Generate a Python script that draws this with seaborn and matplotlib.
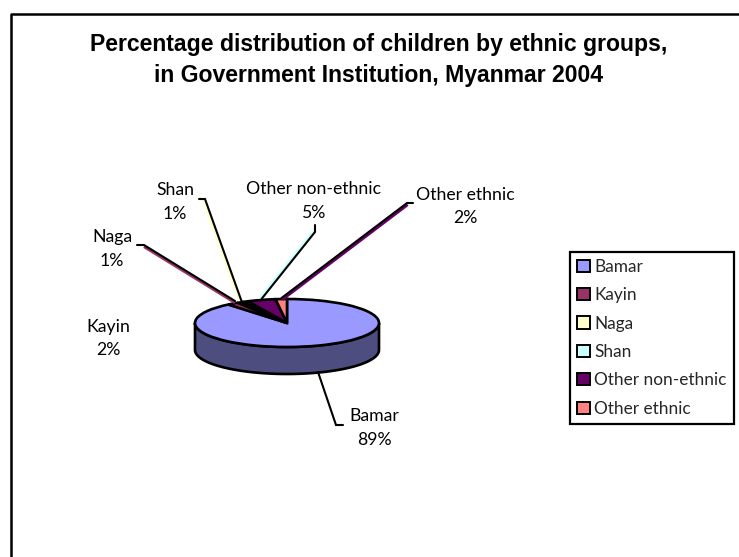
import matplotlib
matplotlib.use("Agg")
import matplotlib.pyplot as plt
import seaborn as sns
import numpy as np
from matplotlib.patches import Patch, Polygon

categories = ["Bamar", "Kayin", "Naga", "Shan", "Other non-ethnic", "Other ethnic"]
values = [89, 2, 1, 1, 5, 2]
colors = ["#9999FF", "#993366", "#FFFFCC", "#CCFFFF", "#660066", "#FF8080"]
side_color = "#4D4D80"
title_text = "Percentage distribution of children by ethnic groups,\nin Government Institution, Myanmar 2004"

sns.set_theme(style="white")
plt.rcParams["font.family"] = ["Lato", "DejaVu Sans"]
W, H = 739, 557
fig = plt.figure(figsize=(W / 100, H / 100), dpi=100, facecolor="white")

# overlay in pixel coordinates for frame, leaders, labels
px = fig.add_axes([0, 0, 1, 1], zorder=3)
px.set_xlim(0, W); px.set_ylim(H, 0); px.axis("off"); px.patch.set_alpha(0)

# pie axes: unit circle maps to squashed ellipse
cx, cy, rx, ry, depth = 287, 323, 92, 24, 27
ax = fig.add_axes([(cx - rx) / W, 1 - (cy + ry) / H, 2 * rx / W, 2 * ry / H], zorder=2)
ax.pie(values, colors=colors, startangle=90, counterclock=False, radius=1,
       wedgeprops=dict(edgecolor="black", linewidth=1.9))
ax.set_aspect("auto")
ax.set_xlim(-1, 1); ax.set_ylim(-1, 1)
ax.set_frame_on(False)
ax.patch.set_alpha(0)
for a in ax.patches:
    a.set_clip_on(False)
d = depth / ry
t = np.linspace(np.pi, 2 * np.pi, 100)
xs = np.r_[np.cos(t), np.cos(t)[::-1]]
ys = np.r_[np.sin(t) - d, np.sin(t)[::-1]]
ax.add_patch(Polygon(np.c_[xs, ys], closed=True, facecolor=side_color, edgecolor="black",
                     linewidth=1.9, zorder=0, clip_on=False))

# frame clipped by the image on the right and bottom
px.plot([10.5, 10.5, W + 5], [H + 5, 13.5, 13.5], color="black", lw=1.8, clip_on=False)

# leaders: (path, fringe colour)
leaders = [
    ([(318, 372), (336, 425), (343, 425)], None),
    ([(235, 301), (144, 245), (137, 245)], "#993366"),
    ([(241.5, 301), (205, 199), (199, 199)], "#FFFFCC"),
    ([(261.5, 299), (315, 232), (315, 225)], "#CCFFFF"),
    ([(281.5, 298), (407, 203), (413, 203)], "#660066"),
]
offsets = [None, (0, 1.6), (-1.8, 0), (-1.6, -0.6), (0.6, 1.6)]
for (path, fringe), off in zip(leaders, offsets):
    x, y = zip(*path)
    if fringe:
        px.plot(np.array(x[:2]) + off[0], np.array(y[:2]) + off[1], color=fringe, lw=2.2,
                solid_capstyle="butt")
    px.plot(x, y, color="black", lw=1.5, solid_joinstyle="miter")

label_pos = [(374, 428), (108, 338.5), (112, 249), (175, 202), (314, 201), (465, 206.5)]
for name, v, (x, y) in zip(categories, values, label_pos):
    px.text(x, y, f"{name}\n{v}%", ha="center", va="center", fontsize=12.7, color="black",
            linespacing=1.55)

px.text(379, 60, title_text, ha="center", va="center", fontsize=16.6, fontweight="bold",
        family=["Liberation Sans"], color="black", linespacing=1.4)

# legend
handles = [Patch(facecolor=c, edgecolor="black", linewidth=1.4) for c in colors]
leg = fig.legend(handles, categories, loc="upper left",
                 bbox_to_anchor=(570 / W, 1 - 251.5 / H), frameon=True, fancybox=False,
                 edgecolor="black", framealpha=1, fontsize=12.4, handlelength=0.72,
                 handleheight=0.72, handletextpad=0.25, labelspacing=0.72,
                 borderpad=0.42, borderaxespad=0)
leg.get_frame().set_linewidth(1.6)
leg.set_zorder(5)

fig.savefig("out.png", dpi=100)
